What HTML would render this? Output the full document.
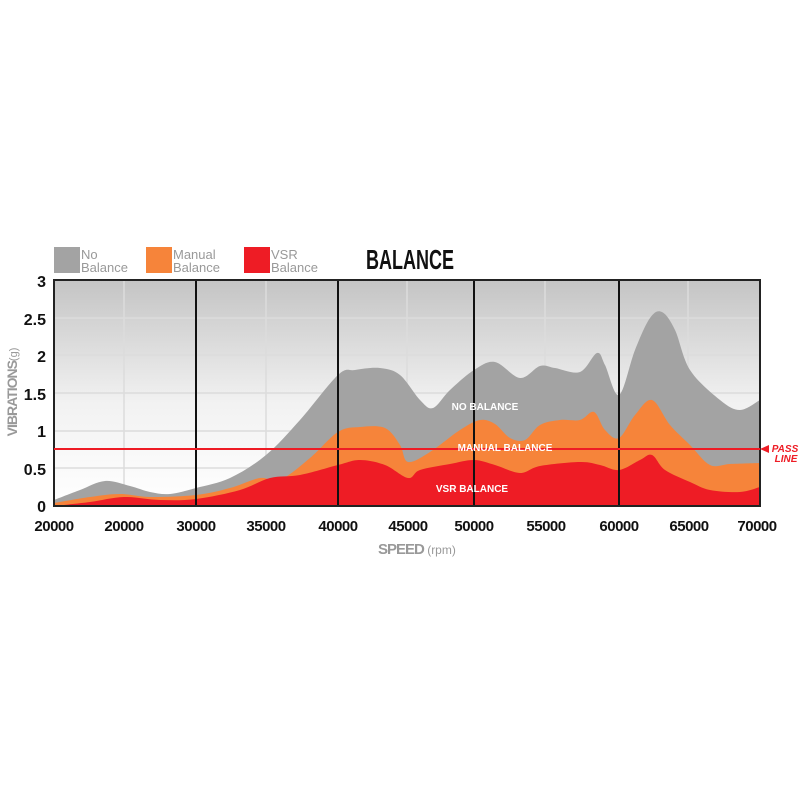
<!DOCTYPE html>
<html><head><style>body{margin:0;background:#fff}svg{display:block}</style></head><body>
<svg width="800" height="800" viewBox="0 0 800 800" xmlns="http://www.w3.org/2000/svg" font-family="Liberation Sans, sans-serif">
<defs><linearGradient id="bg" x1="0" y1="0" x2="0" y2="1"><stop offset="0" stop-color="#c4c4c4"/><stop offset="0.55" stop-color="#f2f2f2"/><stop offset="1" stop-color="#fff"/></linearGradient></defs>
<rect x="54" y="280" width="706" height="226" fill="url(#bg)"/>
<g stroke="#dcdcdc" stroke-width="1.5">
<line x1="54" y1="318" x2="760" y2="318"/><line x1="54" y1="355" x2="760" y2="355"/><line x1="54" y1="393" x2="760" y2="393"/><line x1="54" y1="431" x2="760" y2="431"/><line x1="54" y1="468" x2="760" y2="468"/>
<line x1="124" y1="280" x2="124" y2="506"/><line x1="266" y1="280" x2="266" y2="506"/><line x1="407" y1="280" x2="407" y2="506"/><line x1="545" y1="280" x2="545" y2="506"/><line x1="688" y1="280" x2="688" y2="506"/>
</g>
<path id="g" fill="#a3a3a3" d=""/>
<path id="o" fill="#f6843a" d=""/>
<path id="r" fill="#ee1c25" d=""/>
<g stroke="#111" stroke-width="2">
<line x1="196" y1="280" x2="196" y2="506"/><line x1="338" y1="280" x2="338" y2="506"/><line x1="474" y1="280" x2="474" y2="506"/><line x1="619" y1="280" x2="619" y2="506"/>
</g>
<rect x="54" y="280" width="706" height="226" fill="none" stroke="#222" stroke-width="2"/>
<line x1="54" y1="449" x2="760" y2="449" stroke="#ee1c25" stroke-width="2"/>
<polygon points="760,449 769,445 769,453" fill="#ee1c25"/>
<g fill="#ee1c25" font-weight="bold" font-style="italic" font-size="10" text-anchor="middle"><text x="785" y="452">PASS</text><text x="786" y="462">LINE</text></g>
<g fill="#fff" font-weight="bold" font-size="10" text-anchor="middle">
<text x="485" y="410">NO BALANCE</text><text x="505" y="451">MANUAL BALANCE</text><text x="472" y="492">VSR BALANCE</text></g>
<g font-weight="bold" font-size="16" fill="#111" text-anchor="end">
<text x="46" y="287">3</text><text x="46" y="325">2.5</text><text x="46" y="362">2</text><text x="46" y="400">1.5</text><text x="46" y="437">1</text><text x="46" y="475">0.5</text><text x="46" y="512">0</text></g>
<g font-weight="bold" font-size="15" fill="#111" text-anchor="middle" letter-spacing="-0.5">
<text x="54" y="531">20000</text><text x="124" y="531">20000</text><text x="196" y="531">30000</text><text x="266" y="531">35000</text><text x="338" y="531">40000</text><text x="408" y="531">45000</text><text x="474" y="531">50000</text><text x="546" y="531">55000</text><text x="619" y="531">60000</text><text x="689" y="531">65000</text><text x="757" y="531">70000</text></g>
<text x="378" y="554" fill="#999" font-weight="bold" font-size="15" letter-spacing="-1">SPEED<tspan font-weight="normal" font-size="12" letter-spacing="0"> (rpm)</tspan></text>
<text transform="translate(17,392) rotate(-90)" text-anchor="middle" fill="#999" font-weight="bold" font-size="14" letter-spacing="-1">VIBRATIONS<tspan font-weight="normal" font-size="11" letter-spacing="0">(g)</tspan></text>
<rect x="54" y="247" width="26" height="26" fill="#a3a3a3"/>
<rect x="146" y="247" width="26" height="26" fill="#f6843a"/>
<rect x="244" y="247" width="26" height="26" fill="#ee1c25"/>
<g fill="#999" font-size="13">
<text x="81" y="259">No</text><text x="81" y="272">Balance</text>
<text x="173" y="259">Manual</text><text x="173" y="272">Balance</text>
<text x="271" y="259">VSR</text><text x="271" y="272">Balance</text></g>
<text x="366" y="269" font-weight="bold" font-size="28" fill="#111" textLength="88" lengthAdjust="spacingAndGlyphs">BALANCE</text>
</svg>
<script>
function sm(p){var d="M"+p[0][0]+","+p[0][1];for(var i=0;i<p.length-1;i++){var a=p[i-1]||p[i],b=p[i],c=p[i+1],e=p[i+2]||c;var c1x=b[0]+(c[0]-a[0])/6,c1y=b[1]+(c[1]-a[1])/6,c2x=c[0]-(e[0]-b[0])/6,c2y=c[1]-(e[1]-b[1])/6;d+=" C"+c1x+","+c1y+" "+c2x+","+c2y+" "+c[0]+","+c[1];}return d+" L760,506 L54,506Z";}
var G=[[54,500],[80,490],[105,481],[130,486],[150,492],[170,494],[196,488],[230,478],[266,455],[300,420],[338,375],[355,370],[380,368],[400,375],[420,400],[433,408],[450,390],[474,370],[495,362],[520,378],[540,366],[555,368],[580,372],[597,353],[605,365],[619,395],[635,350],[650,318],[662,312],[675,330],[690,370],[720,400],[740,410],[760,400]];
var O=[[54,503],[90,497],[120,494],[150,497],[196,495],[230,488],[260,478],[280,480],[310,458],[338,432],[360,427],[385,428],[400,445],[408,462],[430,452],[460,430],[480,420],[495,424],[510,438],[525,440],[540,425],[560,420],[580,420],[594,412],[605,430],[619,438],[635,415],[652,400],[670,425],[690,445],[710,465],[730,464],[760,463]];
var R=[[54,506],[90,502],[124,497],[160,500],[196,499],[240,490],[270,478],[300,475],[338,465],[360,460],[385,465],[408,478],[420,470],[450,464],[474,460],[495,465],[520,473],[540,466],[580,462],[600,465],[619,470],[640,460],[652,455],[665,470],[690,482],[710,490],[740,492],[760,487]];
document.getElementById("g").setAttribute("d",sm(G));document.getElementById("o").setAttribute("d",sm(O));document.getElementById("r").setAttribute("d",sm(R));
</script>
</body></html>
